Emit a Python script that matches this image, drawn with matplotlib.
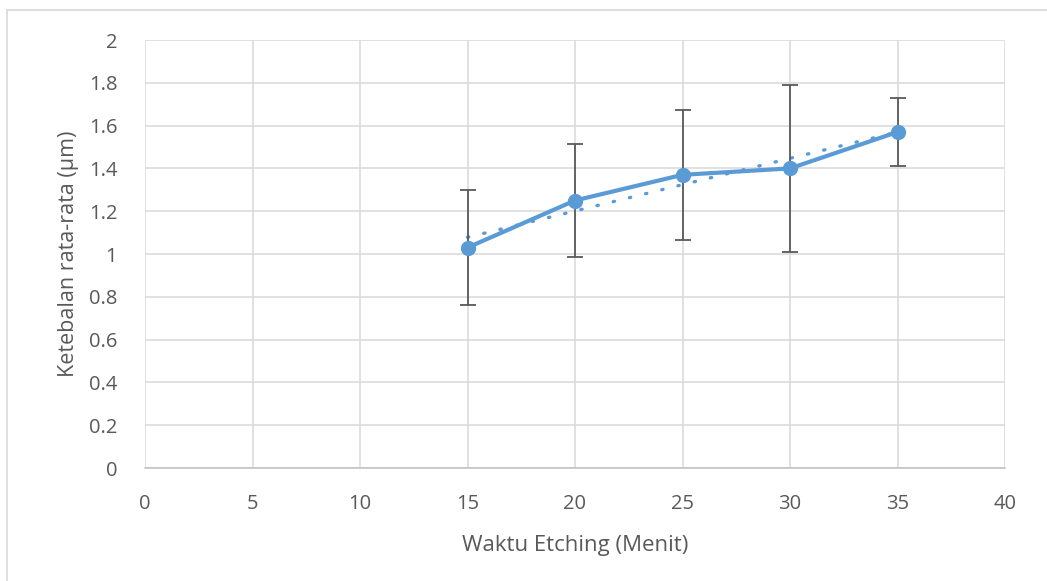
import matplotlib
matplotlib.use("Agg")
import matplotlib.pyplot as plt
import numpy as np
from matplotlib.lines import Line2D

# Data
waktu = [15, 20, 25, 30, 35]
ketebalan = [1.03, 1.25, 1.37, 1.40, 1.57]
err = [0.27, 0.265, 0.305, 0.39, 0.16]
x_ticks = [0, 5, 10, 15, 20, 25, 30, 35, 40]
y_ticks = [0, 0.2, 0.4, 0.6, 0.8, 1, 1.2, 1.4, 1.6, 1.8, 2]
y_tick_labels = ["0", "0.2", "0.4", "0.6", "0.8", "1", "1.2", "1.4", "1.6", "1.8", "2"]

plt.rcParams['font.family'] = ['Open Sans', 'DejaVu Sans']
txt = '#595959'
blue = '#5B9BD5'

fig = plt.figure(figsize=(10.47, 5.81), dpi=100)
W, H = 1047, 581
ax = fig.add_axes([145 / W, 1 - 468 / H, (1005 - 145) / W, (468 - 40) / H])

# outer chart border (top and left visible)
fig.add_artist(Line2D([7 / W, 1.0], [1 - 10 / H, 1 - 10 / H], color='#D9D9D9', lw=1.2, transform=fig.transFigure))
fig.add_artist(Line2D([7 / W, 7 / W], [0, 1 - 10 / H], color='#D9D9D9', lw=1.2, transform=fig.transFigure))

ax.set_xlim(0, 40)
ax.set_ylim(0, 2)
ax.set_xticks(x_ticks)
ax.set_yticks(y_ticks)
ax.set_yticklabels(y_tick_labels)
ax.grid(True, color='#D9D9D9', lw=1.1)
ax.set_axisbelow(True)
for s in ['top', 'right']:
    ax.spines[s].set_visible(False)
ax.spines['left'].set_visible(False)
ax.spines['bottom'].set_color('#BFBFBF')
ax.spines['bottom'].set_linewidth(1.1)
ax.tick_params(length=0, labelsize=14.5, colors=txt)
ax.tick_params(axis='x', pad=19)
ax.tick_params(axis='y', pad=20)

# linear trendline
coef = np.polyfit(waktu, ketebalan, 1)
tx = np.array([waktu[0], waktu[-1]])
ax.plot(tx, np.polyval(coef, tx), color=blue, lw=2.4, linestyle=(0, (0.4, 4.6)),
        dash_capstyle='round', zorder=2)

ax.errorbar(waktu, ketebalan, yerr=err, fmt='none', ecolor='#595959', elinewidth=1.3,
            capsize=6, capthick=1.3, zorder=3)
ax.plot(waktu, ketebalan, color=blue, lw=3, marker='o', markersize=10, zorder=4)

ax.set_xlabel('Waktu Etching (Menit)', fontsize=16, color=txt, labelpad=15)
ax.set_ylabel('Ketebalan rata-rata (μm)', fontsize=15.5, color=txt, labelpad=7)

fig.savefig('out.png', dpi=100)
